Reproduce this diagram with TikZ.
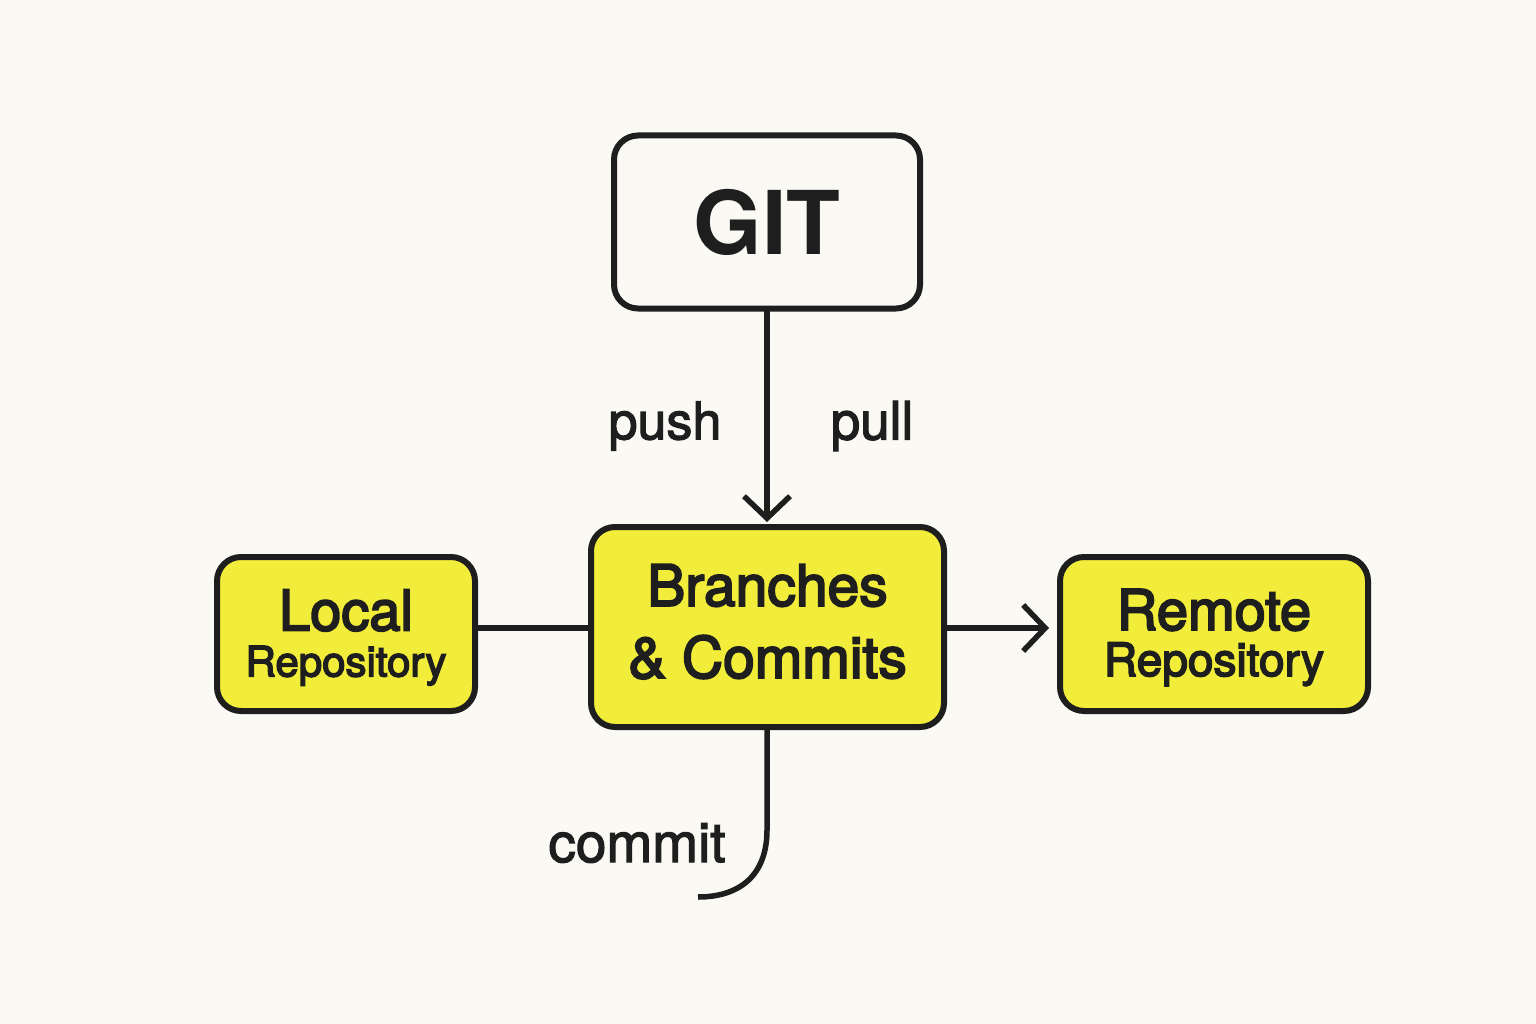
\documentclass[tikz,border=0pt]{standalone}
\usepackage{fontspec}
\setmainfont{TeX Gyre Heros}
\newfontfamily\medfont[FakeBold=2.2]{TeX Gyre Heros}
\newfontfamily\semifont[FakeBold=3.4]{TeX Gyre Heros}
\usetikzlibrary{arrows.meta}
\definecolor{bgc}{HTML}{FAF9F4}
\definecolor{ink}{HTML}{1E1E1E}
\definecolor{yel}{HTML}{F2EC3A}
\tikzset{
  box/.style={draw=ink, line width=6pt, rounded corners=24pt, inner sep=0pt, align=center, text=ink},
  ybox/.style={box, fill=yel},
  conn/.style={draw=ink, line width=5.5pt},
  arr/.style={conn, -{Straight Barb[length=22pt,width=46pt]}},
  lbl/.style={text=ink, inner sep=0pt}
}
\begin{document}
\begin{tikzpicture}[x=1pt,y=-1pt]
\fill[bgc] (0,0) rectangle (1536,1024);
\useasboundingbox (0,0) rectangle (1536,1024);
\node[box, fill=bgc, minimum width=306pt, minimum height=173pt,
  font=\fontsize{88}{88}\selectfont\bfseries] (git) at (767,222) {GIT};
\node[ybox, minimum width=353pt, minimum height=200pt,
  font=\semifont\fontsize{57}{72}\selectfont] (bc) at (767.5,627)
  {Branches\\\& Commits\rule[-12pt]{0pt}{1pt}};
\node[ybox, minimum width=258pt, minimum height=154pt,
  font=\semifont\fontsize{56}{46}\selectfont] (loc) at (346,634)
  {\rule{0pt}{48pt}Local\\{\fontsize{42}{46}\selectfont Repository}};
\node[ybox, minimum width=308pt, minimum height=154pt,
  font=\semifont\fontsize{56}{46}\selectfont] (rem) at (1214,634)
  {\rule{0pt}{48pt}Remote\\{\fontsize{46}{46}\selectfont Repository}};
\coordinate (gitbot) at (767,309);
\coordinate (bctop) at (767,522);
\draw[arr] (gitbot) -- (bctop);
\draw[conn] (loc.east |- 0,628) -- (bc.west |- 0,628);
\coordinate (remtip) at (1049,628);
\draw[arr] (bc.east |- 0,628) -- (remtip);
\coordinate (cstart) at (767,727);
\coordinate (cend) at (698,897);
\draw[conn] (cstart) -- (767,830) .. controls (767,875) and (740,897) .. (cend);
\node[lbl, font=\medfont\fontsize{52}{52}\selectfont] (push) at (665,426) {push};
\node[lbl, font=\medfont\fontsize{53}{53}\selectfont] (pull) at (872,426) {pull};
\node[lbl, font=\medfont\fontsize{55}{55}\selectfont] (commit) at (637,843) {commit};
\end{tikzpicture}
\end{document}
